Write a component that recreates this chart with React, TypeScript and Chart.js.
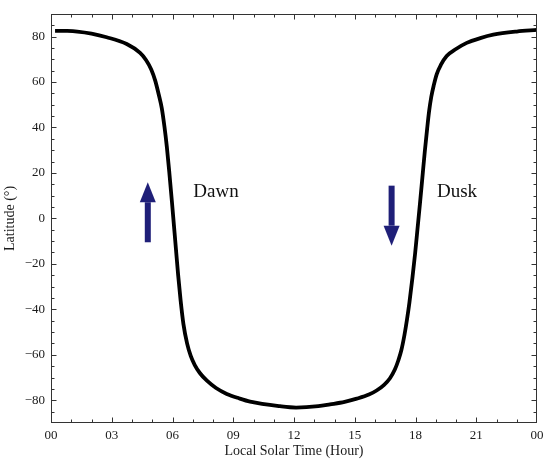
import { useEffect, useRef } from "react";
import { Chart, registerables } from "chart.js";

Chart.register(...registerables);

const FONT = "'Liberation Serif', 'Times New Roman', Times, serif";

// Curve: local solar time (hours) vs latitude (deg)
const hours = [
  0.2, 0.8, 1.3, 2.0, 2.75, 3.74, 4.4, 4.7, 4.95, 5.15,
  5.32, 5.47, 5.6, 5.72, 5.84, 5.97, 6.07, 6.17, 6.28, 6.4,
  6.54, 6.72, 6.9, 7.1, 7.35, 7.7, 8.15, 8.68, 9.3, 9.83,
  11.3, 12.1, 13.2, 13.78, 14.5, 15.1, 15.7, 16.08, 16.45, 16.74,
  16.98, 17.15, 17.3, 17.45, 17.58, 17.7, 17.85, 17.98, 18.1, 18.22,
  18.34, 18.46, 18.57, 18.67, 18.78, 18.9, 19.05, 19.25, 19.54, 20.0,
  20.53, 21.2, 21.84, 23.0, 24.0,
];
const latitudes = [
  82.5, 82.45, 82.2, 81.3, 79.7, 76.7, 72.8, 69.6, 65.5, 60.5,
  54.5, 48.5, 40.5, 31.5, 20.5, 7.5, -3.0, -13.5, -25.0, -36.0,
  -46.5, -55.0, -60.5, -64.5, -68.0, -71.4, -74.6, -77.2, -79.2, -80.6,
  -82.6, -83.2, -82.6, -81.8, -80.7, -79.3, -77.5, -75.7, -73.2, -70.3,
  -66.5, -62.5, -58.0, -51.5, -44.5, -37.0, -26.0, -15.5, -4.5, 6.5,
  18.0, 29.5, 39.0, 47.0, 53.5, 58.5, 63.5, 67.5, 71.4, 74.5,
  77.2, 79.3, 80.8, 82.2, 82.9,
];

const xTickValues = [0, 3, 6, 9, 12, 15, 18, 21, 24];
const yTickValues = [-80, -60, -40, -20, 0, 20, 40, 60, 80];

// Annotations (data coordinates)
const arrowHours = [4.78, 16.82];
const arrowFromLat = [-10.5, 14.4];
const arrowToLat = [15.9, -12.0];
const noteTexts = ["Dawn", "Dusk"];
const noteHours = [7.03, 19.06];
const noteLats = [9.4, 9.4];

const decorPlugin = {
  id: "decor",
  afterDatasetsDraw(chart: any) {
    const { ctx, chartArea: a, scales } = chart;
    const x = scales.x;
    const y = scales.y;
    ctx.save();

    // arrows
    ctx.fillStyle = "#1f1f78";
    for (let i = 0; i < arrowHours.length; i++) {
      const px = x.getPixelForValue(arrowHours[i]);
      const y0 = y.getPixelForValue(arrowFromLat[i]);
      const y1 = y.getPixelForValue(arrowToLat[i]);
      const dir = y1 < y0 ? -1 : 1;
      const headLen = 20;
      const headHalf = 8;
      const shaftHalf = 3;
      const yBase = y1 - dir * headLen;
      ctx.fillRect(px - shaftHalf, Math.min(y0, yBase), shaftHalf * 2, Math.abs(yBase - y0));
      ctx.beginPath();
      ctx.moveTo(px - headHalf, yBase);
      ctx.lineTo(px + headHalf, yBase);
      ctx.lineTo(px, y1);
      ctx.closePath();
      ctx.fill();
    }

    // notes
    ctx.fillStyle = "#111";
    ctx.font = `19px ${FONT}`;
    ctx.textAlign = "left";
    ctx.textBaseline = "alphabetic";
    for (let i = 0; i < noteTexts.length; i++) {
      ctx.fillText(noteTexts[i], x.getPixelForValue(noteHours[i]), y.getPixelForValue(noteLats[i]));
    }

    // frame
    ctx.strokeStyle = "#333";
    ctx.lineWidth = 1;
    const L = Math.round(a.left) + 0.5;
    const R = Math.round(a.right) - 0.5;
    const T = Math.round(a.top) + 0.5;
    const B = Math.round(a.bottom) - 0.5;
    ctx.strokeRect(L, T, R - L, B - T);

    // inward ticks
    ctx.beginPath();
    for (let h = 1; h < 24; h += 1) {
      const px = Math.round(x.getPixelForValue(h)) + 0.5;
      const len = h % 3 === 0 ? 5 : 3;
      ctx.moveTo(px, B);
      ctx.lineTo(px, B - len);
      ctx.moveTo(px, T);
      ctx.lineTo(px, T + len);
    }
    for (let v = -85; v < 90; v += 5) {
      const py = Math.round(y.getPixelForValue(v)) + 0.5;
      const len = v % 20 === 0 ? 5 : 3;
      ctx.moveTo(L, py);
      ctx.lineTo(L + len, py);
      ctx.moveTo(R, py);
      ctx.lineTo(R - len, py);
    }
    ctx.stroke();
    ctx.restore();
  },
};

export default function App() {
  const canvasRef = useRef<HTMLCanvasElement | null>(null);

  useEffect(() => {
    if (!canvasRef.current) return;
    const points = hours.map((h, i) => ({ x: h, y: latitudes[i] }));
    const chart = new Chart(canvasRef.current, {
      type: "line",
      data: {
        datasets: [
          {
            data: points,
            borderColor: "#000",
            borderWidth: 3.8,
            pointRadius: 0,
            fill: false,
            cubicInterpolationMode: "monotone",
          },
        ],
      },
      options: {
        animation: false,
        responsive: false,
        maintainAspectRatio: false,
        layout: { padding: { top: 7, right: 13, bottom: 0, left: 0 } },
        plugins: { legend: { display: false }, tooltip: { enabled: false } },
        scales: {
          x: {
            type: "linear",
            min: 0,
            max: 24,
            grid: { display: false, drawTicks: false },
            border: { display: false },
            afterBuildTicks: (ax: any) => {
              ax.ticks = xTickValues.map((v) => ({ value: v }));
            },
            afterFit: (ax: any) => {
              ax.height = 41;
            },
            ticks: {
              autoSkip: false,
              maxRotation: 0,
              padding: 5,
              color: "#1a1a1a",
              font: { family: FONT, size: 13 },
              callback: (v: any) => String(Number(v) % 24).padStart(2, "0"),
            },
            title: {
              display: true,
              text: "Local Solar Time (Hour)",
              color: "#1a1a1a",
              font: { family: FONT, size: 14 },
              padding: { top: 0, bottom: 4 },
            },
          },
          y: {
            type: "linear",
            min: -90,
            max: 90,
            grid: { display: false, drawTicks: false },
            border: { display: false },
            afterBuildTicks: (ax: any) => {
              ax.ticks = yTickValues.map((v) => ({ value: v }));
            },
            afterFit: (ax: any) => {
              ax.width = 51;
            },
            ticks: {
              autoSkip: false,
              padding: 6,
              color: "#1a1a1a",
              font: { family: FONT, size: 13 },
              callback: (v: any) => (Number(v) < 0 ? "\u2212" + Math.abs(Number(v)) : String(v)),
            },
            title: {
              display: true,
              text: "Latitude (°)",
              color: "#1a1a1a",
              font: { family: FONT, size: 14 },
              padding: { top: 2, bottom: 0 },
            },
          },
        },
      },
      plugins: [decorPlugin],
    } as any);
    return () => chart.destroy();
  }, []);

  return (
    <div style={{ position: "fixed", left: 0, top: 0, width: 550, height: 464, background: "#fff" }}>
      <canvas ref={canvasRef} width={550} height={464} style={{ display: "block" }} />
    </div>
  );
}
